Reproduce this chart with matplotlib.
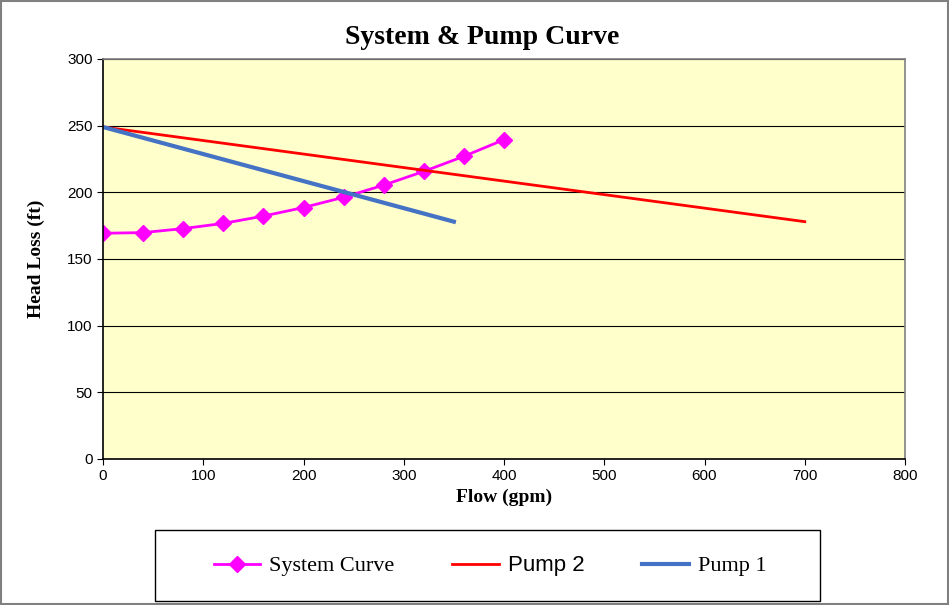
import matplotlib.pyplot as plt
from matplotlib.patches import Rectangle

flow_sys = [0, 40, 80, 120, 160, 200, 240, 280, 320, 360, 400]
head_sys = [169.3, 169.8, 172.8, 176.7, 182.2, 188.6, 196.3, 205.4, 215.7, 227.0, 239.5]
flow_p2 = [0, 700]
head_p2 = [249, 178]
flow_p1 = [0, 350]
head_p1 = [249, 178]

fig = plt.figure(figsize=(9.49, 6.05), dpi=100)
W, H = 949, 605
ax = fig.add_axes([103 / W, 1 - 459 / H, 802 / W, 400 / H])
ax.set_facecolor('#FFFFCC')

ax.plot(flow_sys, head_sys, color='#FF00FF', lw=2, marker='D', ms=8, label='System Curve')
ax.plot(flow_p2, head_p2, color='#FF0000', lw=2, label='Pump 2')
ax.plot(flow_p1, head_p1, color='#4472C4', lw=3, label='Pump 1')

ax.set_xlim(0, 800)
ax.set_ylim(0, 300)
ax.set_xticks(range(0, 801, 100))
ax.set_yticks(range(0, 301, 50))
ax.grid(axis='y', color='black', lw=0.8)
ax.set_axisbelow(True)
for s in ax.spines.values():
    s.set_color('#808080')
    s.set_linewidth(1.2)
ax.spines['left'].set_color('black')
ax.spines['bottom'].set_color('black')
ax.tick_params(labelsize=11, direction='out', length=4, color='black')
for lbl in ax.get_xticklabels() + ax.get_yticklabels():
    lbl.set_family('Liberation Sans')

fig.text(482 / W, 1 - 37 / H, 'System & Pump Curve', fontsize=20, fontweight='bold',
         family='Liberation Serif', ha='center', va='center')
ax.set_xlabel('Flow (gpm)', fontsize=14, fontweight='bold', family='Liberation Serif', labelpad=4)
ax.set_ylabel('Head Loss (ft)', fontsize=14, fontweight='bold', family='Liberation Serif', labelpad=16)

# legend in its own box below the axes
handles, labels = ax.get_legend_handles_labels()
leg = fig.legend(handles, labels, loc='center', bbox_to_anchor=(490 / W, 1 - 566 / H),
                 ncol=3, frameon=False, fontsize=16, columnspacing=2.6, handlelength=2.1,
                 handletextpad=0.4)
for t in leg.get_texts():
    t.set_family('Liberation Serif')
leg.get_texts()[1].set_family('Liberation Sans')
fig.patches.append(Rectangle((155 / W, 1 - 601 / H), 665 / W, 71 / H, transform=fig.transFigure,
                             fill=False, edgecolor='black', lw=1))

# outer chart border
fig.patches.append(Rectangle((1 / W, 1 / H), 947 / W, 603 / H, transform=fig.transFigure,
                             fill=False, edgecolor='#808080', lw=1.5))

fig.savefig('out.png', dpi=100)
